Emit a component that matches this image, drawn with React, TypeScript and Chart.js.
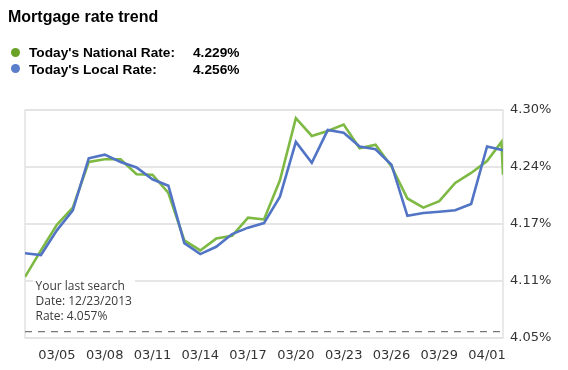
import React, { useEffect, useRef } from 'react';
import { Chart, registerables } from 'chart.js';

Chart.register(...registerables);

// Day offsets from 03/03
const localDays = [0, 1, 2, 3, 4, 5, 6, 7, 8, 9, 10, 11, 12, 13, 14, 15, 16, 17, 18, 19, 20, 21, 22, 23, 24, 25, 26, 27, 28, 29, 30];
const localRates = [4.143, 4.141, 4.168, 4.190, 4.247, 4.251, 4.243, 4.237, 4.224, 4.217, 4.154, 4.142, 4.150, 4.164, 4.171, 4.176, 4.205, 4.265, 4.242, 4.278, 4.275, 4.260, 4.257, 4.240, 4.184, 4.187, 4.1885, 4.190, 4.197, 4.260, 4.256];

const nationalDays = [0, 1, 2, 3, 4, 5, 6, 7, 8, 9, 10, 11, 12, 13, 14, 15, 16, 17, 18, 19, 20, 21, 22, 23, 24, 25, 26, 27, 28, 29, 29.9, 30];
const nationalRates = [4.117, 4.146, 4.174, 4.193, 4.243, 4.246, 4.246, 4.2295, 4.229, 4.209, 4.157, 4.146, 4.159, 4.162, 4.182, 4.180, 4.223, 4.291, 4.2715, 4.277, 4.284, 4.258, 4.262, 4.238, 4.203, 4.193, 4.200, 4.220, 4.231, 4.244, 4.265, 4.229];

const xTickDays = [2, 5, 8, 11, 14, 17, 20, 23, 26, 29];
const xTickLabels = ['03/05', '03/08', '03/11', '03/14', '03/17', '03/20', '03/23', '03/26', '03/29', '04/01'];

const yTickValues = [4.05, 4.1125, 4.175, 4.2375, 4.30];
const yTickLabels = ['4.05%', '4.11%', '4.17%', '4.24%', '4.30%'];

const lastSearchRate = 4.057;
const lastSearchLines = ['Your last search', 'Date: 12/23/2013', 'Rate: 4.057%'];

const titleText = 'Mortgage rate trend';
const legendNames = ["Today's National Rate:", "Today's Local Rate:"];
const legendValues = ['4.229%', '4.256%'];

const GREEN = '#7db943';
const BLUE = '#5274c4';
const DOT_GREEN = '#6aa127';
const DOT_BLUE = '#5b7ecb';

const overlayPlugin = {
  id: 'overlayPlugin',
  beforeDatasetsDraw(chart: any) {
    const { ctx, chartArea: a, scales } = chart;
    const y = scales.y;
    ctx.save();
    ctx.strokeStyle = '#e2e2e2';
    ctx.lineWidth = 1.5;
    ctx.strokeRect(a.left, a.top, a.right - a.left, a.bottom - a.top);

    const yy = y.getPixelForValue(lastSearchRate);
    ctx.setLineDash([7, 6]);
    ctx.strokeStyle = '#777';
    ctx.lineWidth = 1.3;
    ctx.beginPath();
    ctx.moveTo(a.left, yy);
    ctx.lineTo(a.right, yy);
    ctx.stroke();
    ctx.setLineDash([]);

    ctx.fillStyle = '#fff';
    ctx.fillRect(a.left + 8, yy - 52, 102, 44);

    ctx.fillStyle = '#3a3a3a';
    ctx.font = '12px "Open Sans"';
    ctx.textBaseline = 'middle';
    ctx.textAlign = 'left';
    lastSearchLines.forEach((t, i) => {
      ctx.fillText(t, a.left + 10.5, yy - 45.5 + i * 15.2);
    });
    ctx.restore();
  },
};

export default function App() {
  const ref = useRef<HTMLCanvasElement | null>(null);

  useEffect(() => {
    if (!ref.current) return;
    const chart = new Chart(ref.current, {
      type: 'line',
      data: {
        datasets: [
          {
            label: 'Local',
            data: localDays.map((d, i) => ({ x: d, y: localRates[i] })),
            borderColor: BLUE,
            borderWidth: 2.6,
            pointRadius: 0,
            tension: 0,
            fill: false,
          },
          {
            label: 'National',
            data: nationalDays.map((d, i) => ({ x: d, y: nationalRates[i] })),
            borderColor: GREEN,
            borderWidth: 2.6,
            pointRadius: 0,
            tension: 0,
            fill: false,
          },
        ],
      },
      options: {
        responsive: false,
        animation: false,
        events: [],
        layout: { padding: { left: 25, top: 110, right: 0, bottom: 0 } },
        plugins: {
          legend: { display: false },
          tooltip: { enabled: false },
          title: { display: false },
        },
        scales: {
          x: {
            type: 'linear',
            min: 0,
            max: 30,
            grid: { display: false, drawTicks: false },
            border: { display: false },
            afterFit: (s: any) => {
              s.height = 32;
            },
            afterBuildTicks: (s: any) => {
              s.ticks = xTickDays.map((v) => ({ value: v }));
            },
            ticks: {
              autoSkip: false,
              maxRotation: 0,
              padding: 10,
              color: '#333',
              font: { family: '"DejaVu Sans"', size: 13 },
              callback: (_v: any, i: number) => xTickLabels[i],
            },
          },
          y: {
            position: 'right',
            min: 4.05,
            max: 4.3,
            grid: { color: '#e6e6e6', lineWidth: 2, drawTicks: false },
            border: { display: false },
            afterFit: (s: any) => {
              s.width = 65;
            },
            afterBuildTicks: (s: any) => {
              s.ticks = yTickValues.map((v) => ({ value: v }));
            },
            ticks: {
              padding: 7,
              color: '#333',
              font: { family: '"DejaVu Sans"', size: 13 },
              callback: (_v: any, i: number) => yTickLabels[i],
            },
          },
        },
      },
      plugins: [overlayPlugin],
    });
    return () => chart.destroy();
  }, []);

  const sans = '"Liberation Sans", Arial, sans-serif';
  const dotColors = [DOT_GREEN, DOT_BLUE];
  const rowTops = [44, 60.6];

  return (
    <div style={{ position: 'absolute', left: 0, top: 0, width: 568, height: 370, background: '#fff', overflow: 'hidden' }}>
      <canvas ref={ref} width={568} height={370} style={{ position: 'absolute', left: 0, top: 0, width: 568, height: 370, display: 'block' }} />
      <div style={{ position: 'absolute', left: 8, top: 9, fontFamily: sans, fontWeight: 'bold', fontSize: 16, lineHeight: '16px', color: '#000', whiteSpace: 'nowrap' }}>
        {titleText}
      </div>
      {legendNames.map((name, i) => (
        <div key={name} style={{ position: 'absolute', left: 0, top: rowTops[i], height: 17, width: 300, fontFamily: sans, fontWeight: 'bold', fontSize: 13.7, lineHeight: '17px', color: '#000', whiteSpace: 'nowrap' }}>
          <span style={{ position: 'absolute', left: 10.5, top: 3.7, width: 9, height: 9, borderRadius: '50%', background: dotColors[i] }} />
          <span style={{ position: 'absolute', left: 29, top: 0 }}>{name}</span>
          <span style={{ position: 'absolute', left: 193, top: 0 }}>{legendValues[i]}</span>
        </div>
      ))}
    </div>
  );
}
